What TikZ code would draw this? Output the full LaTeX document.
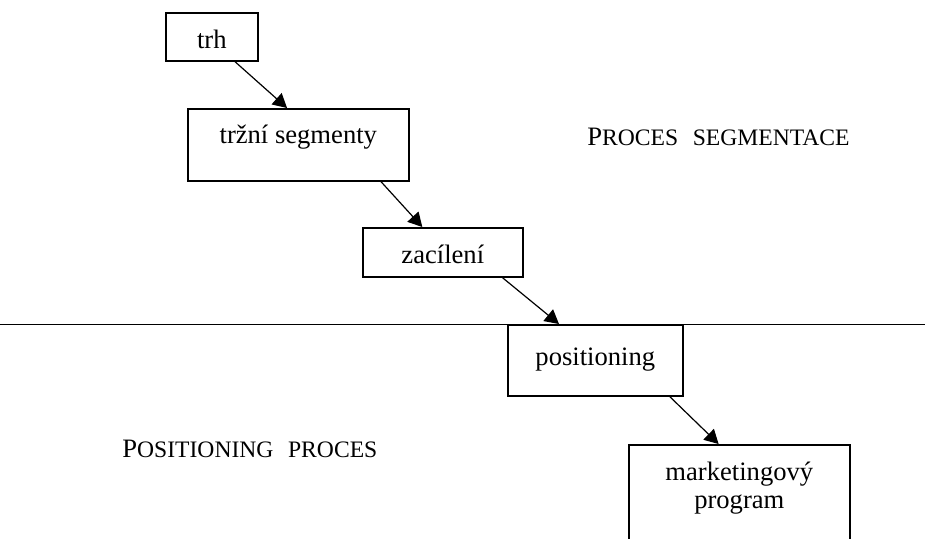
\documentclass[tikz,border=0pt]{standalone}
\usepackage{fontspec}
\setmainfont{Liberation Serif}
\usetikzlibrary{arrows.meta,positioning}
\newcommand{\lowcaps}[1]{{\fontsize{11.8}{12}\selectfont #1}}

\begin{document}
\begin{tikzpicture}[x=0.5pt, y=-0.5pt, >={Triangle[length=7pt,width=7.5pt]},
  font=\fontsize{13.3}{14}\selectfont,
  box/.style={draw, line width=0.8pt, anchor=north west, inner sep=0pt, align=center},
  link/.style={->, line width=0.6pt}]
\clip (0,0) rectangle (925,538);
\node[box, minimum width=46pt, text height=18pt, text depth=6pt] (trh) at (165,12) {trh};
\node[box, minimum width=110.5pt, text height=17.5pt, text depth=18.5pt] (seg) at (187,108) {tržní segmenty};
\node[box, minimum width=80pt, text height=18pt, text depth=6.5pt] (zac) at (362,227) {zacílení};
\node[box, minimum width=87.5pt, text height=20.5pt, text depth=15pt] (pos) at (507,324) {positioning};
\node[box, minimum width=110.5pt, text height=32pt, text depth=24pt] (mark) at (628,444) {marketingový\\program};
% upper and lower part
\coordinate (lineL) at (0,324);
\coordinate (lineR) at (925,324);
\draw[line width=0.5pt] (lineL) -- (lineR);
\node[anchor=base west, inner sep=0pt] (segproc) at (587,145) {P\lowcaps{ROCES}\hspace{0.55em}\lowcaps{SEGMENTACE}};
\node[anchor=base west, inner sep=0pt] (posproc) at (122,457) {P\lowcaps{OSITIONING}\hspace{0.55em}\lowcaps{PROCES}};
\draw[link] (trh.-47.5) -- (seg.107.7);
\draw[link] (seg.-24.1) -- (zac.129.2);
\draw[link] (zac.-23.3) -- (pos.135);
\draw[link] (pos.-26.1) -- (mark.110.1);
\end{tikzpicture}
\end{document}
